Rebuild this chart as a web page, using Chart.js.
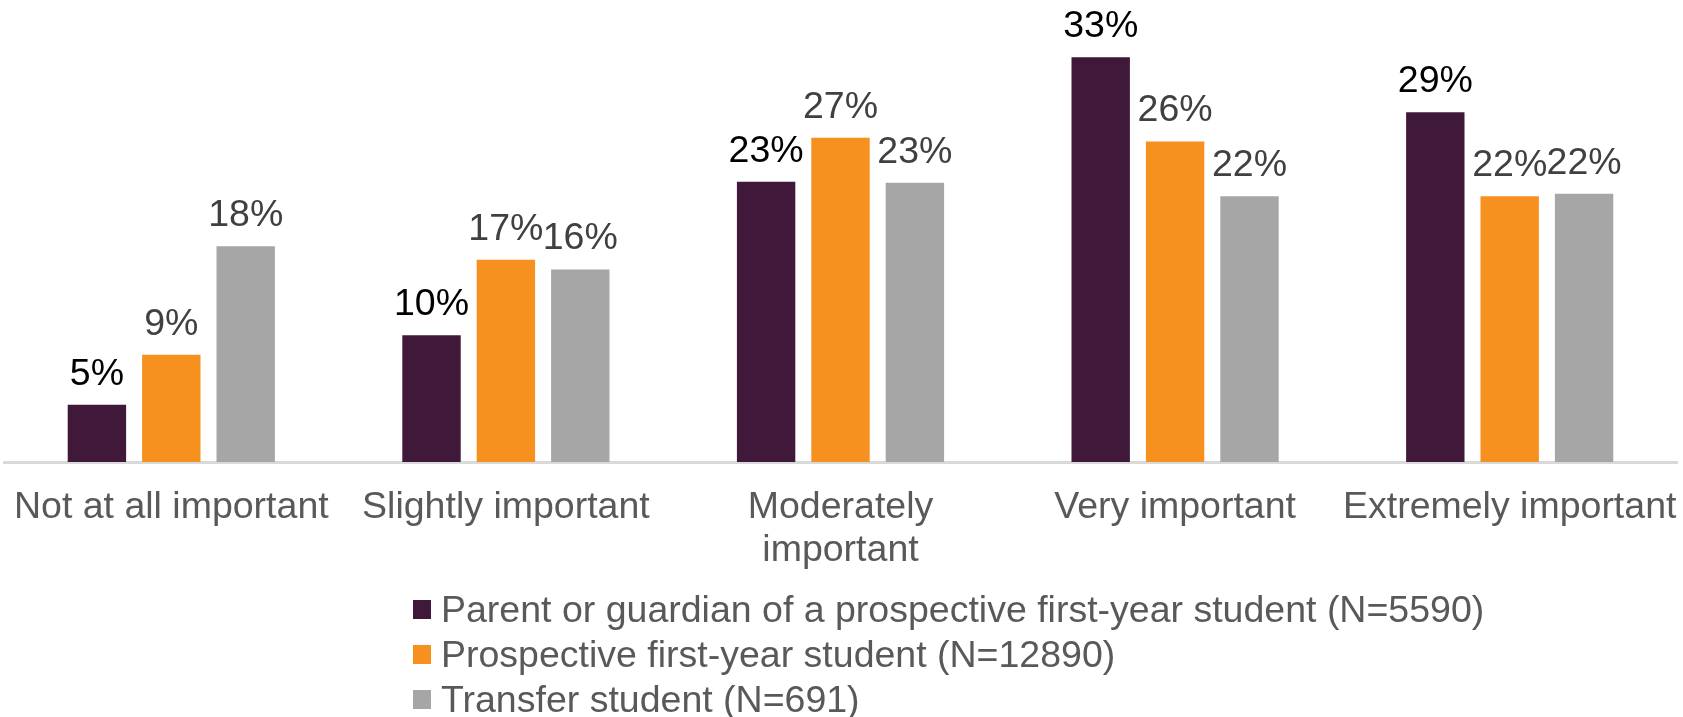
<!DOCTYPE html>
<html>
<head>
<meta charset="utf-8">
<script src="https://cdn.jsdelivr.net/npm/chart.js@4/dist/chart.umd.min.js"></script>
<style>
  body { margin: 0; background: #fff; }
  #wrap { position: relative; width: 1683px; height: 717px; overflow: hidden; }
  #legend { position: absolute; left: 413px; top: 587px; font-family: "Liberation Sans", Arial, sans-serif; font-size: 37.5px; color: #595959; }
  #legend .row { display: flex; align-items: center; height: 45px; white-space: nowrap; }
  #legend .box { width: 18px; height: 19px; margin-right: 10px; flex: none; }
</style>
</head>
<body>
<div id="wrap">
  <canvas id="myChart" width="1683" height="717"></canvas>
  <div id="legend"></div>
</div>
<script>
  // data
  const categories = [
    'Not at all important',
    'Slightly important',
    ['Moderately', 'important'],
    'Very important',
    'Extremely important'
  ];
  const seriesNames = [
    'Parent or guardian of a prospective first-year student (N=5590)',
    'Prospective first-year student (N=12890)',
    'Transfer student (N=691)'
  ];
  const parentVals = [4.7, 10.4, 23.0, 33.2, 28.7];
  const prospectiveVals = [8.8, 16.6, 26.6, 26.3, 21.8];
  const transferVals = [17.7, 15.8, 22.9, 21.8, 22.0];

  const colors = ['#40183a', '#f6901f', '#a6a6a6'];
  const labelColors = ['#000000', '#404040', '#404040'];
  const font = '"Liberation Sans", Arial, sans-serif';

  // value labels above bars
  const barLabels = {
    id: 'barLabels',
    afterDatasetsDraw(chart) {
      const ctx = chart.ctx;
      ctx.save();
      ctx.font = '37.5px ' + font;
      ctx.textAlign = 'center';
      ctx.textBaseline = 'alphabetic';
      chart.data.datasets.forEach((ds, i) => {
        chart.getDatasetMeta(i).data.forEach((bar, j) => {
          ctx.fillStyle = labelColors[i];
          ctx.fillText(Math.round(ds.data[j]) + '%', bar.x, bar.y - 20);
        });
      });
      ctx.restore();
    }
  };

  const data = {
    labels: categories,
    datasets: [parentVals, prospectiveVals, transferVals].map((vals, i) => ({
      label: seriesNames[i],
      data: vals,
      backgroundColor: colors[i],
      categoryPercentage: 0.667,
      barPercentage: 0.785
    }))
  };

  const config = {
    type: 'bar',
    data: data,
    options: {
      responsive: false,
      animation: false,
      layout: { padding: { left: 4, right: 6, top: 0, bottom: 0 } },
      plugins: { legend: { display: false }, tooltip: { enabled: false } },
      scales: {
        x: {
          grid: { display: false, drawTicks: false },
          border: { display: true, color: '#d9d9d9', width: 3 },
          ticks: {
            color: '#595959',
            font: { family: font, size: 37.5, lineHeight: 1.15 },
            padding: 24,
            maxRotation: 0,
            autoSkip: false
          },
          // keep the plot full width, labels may overhang
          afterFit: (scale) => {
            scale.height = 255;
            scale.paddingLeft = 0;
            scale.paddingRight = 0;
          }
        },
        y: { display: false, min: 0, max: 37.9 }
      }
    },
    plugins: [barLabels]
  };

  const myChart = new Chart(document.getElementById('myChart'), config);

  // html legend, one row per series
  const legend = document.getElementById('legend');
  myChart.data.datasets.forEach((ds) => {
    const row = document.createElement('div');
    row.className = 'row';
    const box = document.createElement('span');
    box.className = 'box';
    box.style.background = ds.backgroundColor;
    const txt = document.createElement('span');
    txt.textContent = ds.label;
    row.appendChild(box);
    row.appendChild(txt);
    legend.appendChild(row);
  });
</script>
</body>
</html>
